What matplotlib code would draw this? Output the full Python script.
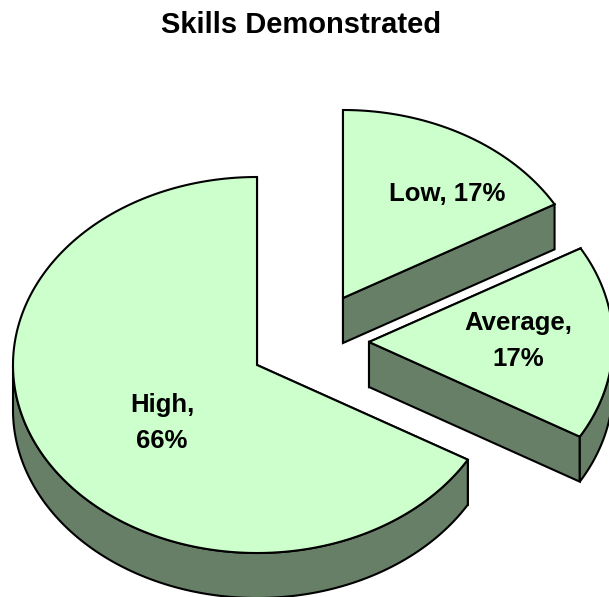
import numpy as np
import matplotlib
matplotlib.use('Agg')
import matplotlib.pyplot as plt
from matplotlib.patches import Polygon

plt.rcParams['font.family'] = ['Liberation Sans', 'DejaVu Sans']

labels = ['High,\n66%', 'Low, 17%', 'Average,\n17%']
values = [66.6, 16.7, 16.7]

TOP_COLOR = '#ccffcc'
SIDE_COLOR = '#677f67'
RX, RY, DEPTH = 244, 188, 45

# slice centres in pixels, the exploded ones don't follow the mid angle
centers = [(257, 365), (343, 298), (369, 342)]
label_pos = [(162, 423), (447, 194), (518, 341)]

# start angles from the values, High runs ccw from the top, rest cw from the top
total = sum(values)
sweeps = [v / total * 360 for v in values]
spans = [
    (90, 90 + sweeps[0]),
    (90 - sweeps[1], 90),
    (90 - sweeps[1] - sweeps[2], 90 - sweeps[1]),
]

fig = plt.figure(figsize=(6.09, 5.97), dpi=100, facecolor='white')
ax = fig.add_axes([0, 0, 1, 1])
ax.set_xlim(0, 609)
ax.set_ylim(597, 0)
ax.axis('off')


def arc(cx, cy, a0, a1):
    t = np.radians(np.linspace(a0, a1, 400))
    return t, np.column_stack([cx + RX * np.cos(t), cy - RY * np.sin(t)])


for (cx, cy), (a0, a1) in zip(centers, spans):
    t, top = arc(cx, cy, a0, a1)
    # back cut face first so the front one hides its lower edge
    for edge in sorted((top[0], top[-1]), key=lambda p: p[1]):
        face = [(cx, cy), edge, edge + [0, DEPTH], (cx, cy + DEPTH)]
        ax.add_patch(Polygon(face, fc=SIDE_COLOR, ec='black', lw=1.5))
    # only the front half of the rim shows
    front = top[np.sin(t) <= 0]
    if len(front) > 1:
        ax.add_patch(Polygon(np.vstack([front, (front + [0, DEPTH])[::-1]]), fc=SIDE_COLOR, ec='black', lw=1.5))
    ax.add_patch(Polygon(np.vstack([[(cx, cy)], top]), fc=TOP_COLOR, ec='black', lw=1.5))

for (x, y), lab in zip(label_pos, labels):
    ax.text(x, y, lab, ha='center', va='center', fontsize=18.5, fontweight='bold', linespacing=1.6)

ax.text(301, 25, 'Skills Demonstrated', ha='center', va='center', fontsize=21, fontweight='bold')

fig.savefig('out.png', dpi=100, facecolor='white')
